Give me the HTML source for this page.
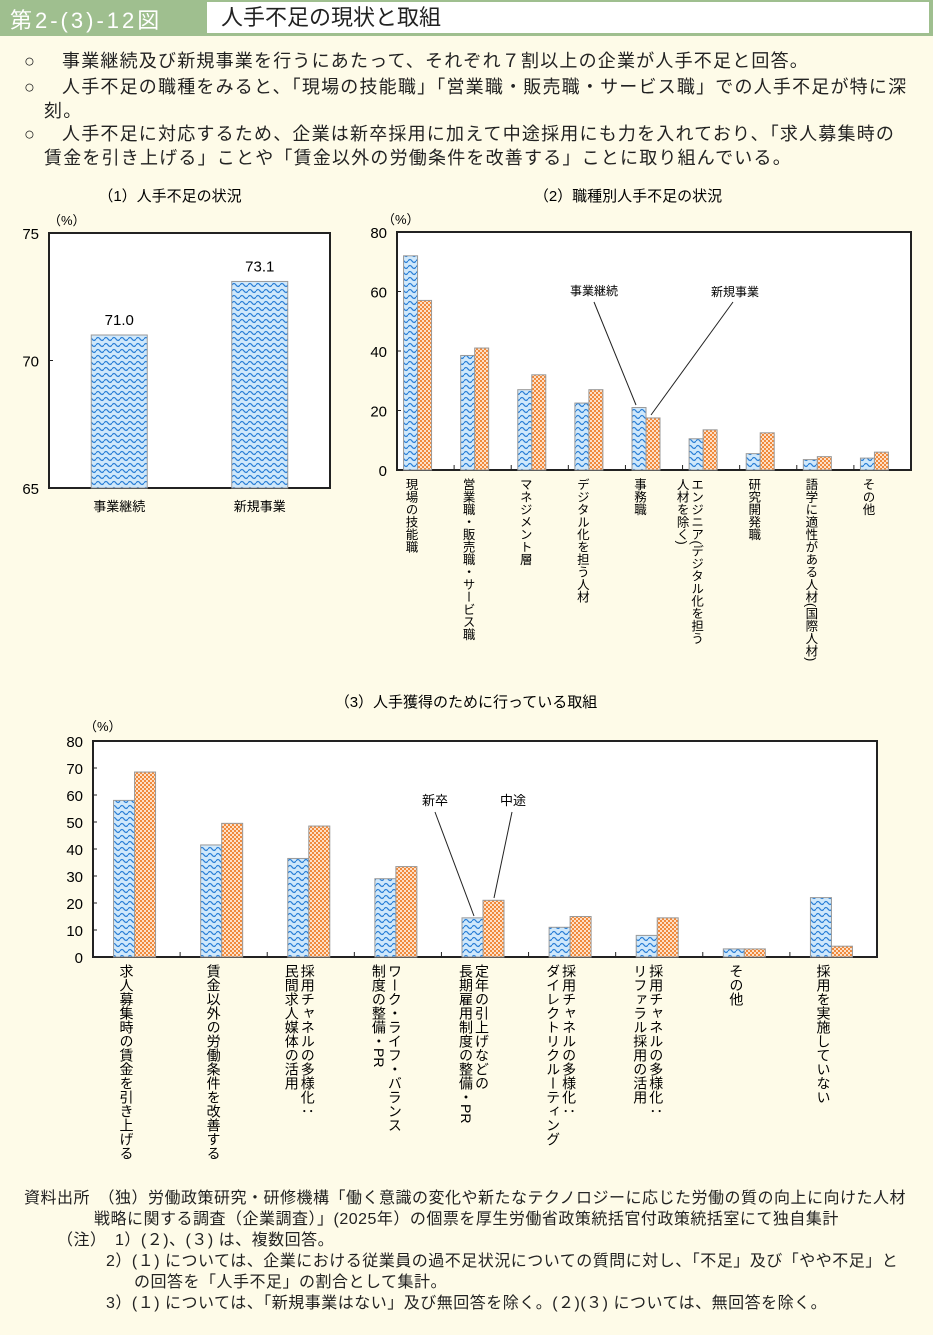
<!DOCTYPE html>
<html><head><meta charset="utf-8"><style>
body{margin:0;width:933px;height:1335px;background:#fefbe8;font-family:"Liberation Sans","Noto Sans CJK JP",sans-serif;position:relative;overflow:hidden;color:#222}
.hdr{position:absolute;left:0;top:0;width:933px;height:36px;background:#9fbf8f}
.hdr .num{position:absolute;left:10px;top:3px;font-size:22px;color:#fff;letter-spacing:3px}
.hdr .ttl{position:absolute;left:207px;top:2px;width:722px;height:31px;background:#fff;font-size:22px;padding-left:14px;line-height:31px;box-sizing:border-box}
.p{position:absolute;font-size:18px;line-height:24px;letter-spacing:1.2px}
.p .b{position:absolute;left:0;top:0}
.note{position:absolute;font-size:16px;line-height:21px;letter-spacing:0.5px}
svg text{font-family:"Liberation Sans","Noto Sans CJK JP",sans-serif}
</style></head><body>
<div class="hdr"><div class="num">第2-(3)-12図</div><div class="ttl">人手不足の現状と取組</div></div>
<div class="p" style="left:24px;top:49px;width:905px;padding-left:38px;box-sizing:border-box"><span class="b">○</span>事業継続及び新規事業を行うにあたって、それぞれ７割以上の企業が人手不足と回答。</div>
<div class="p" style="left:24px;top:75px;width:905px;padding-left:38px;box-sizing:border-box"><span class="b">○</span>人手不足の職種をみると、「現場の技能職」「営業職・販売職・サービス職」での人手不足が特に深<br><span style="margin-left:-18px">刻。</span></div>
<div class="p" style="left:24px;top:122px;width:905px;padding-left:38px;box-sizing:border-box"><span class="b">○</span>人手不足に対応するため、企業は新卒採用に加えて中途採用にも力を入れており、「求人募集時の<br><span style="margin-left:-18px">賃金を引き上げる」ことや「賃金以外の労働条件を改善する」ことに取り組んでいる。</span></div>
<svg id="c" width="933" height="1335" style="position:absolute;left:0;top:0">
<defs>
<pattern id="wave" width="8" height="6" patternUnits="userSpaceOnUse"><rect width="8" height="6" fill="#cfe8fb"/><path d="M0 3 Q2 0 4 3 T8 3" stroke="#2a7fd6" stroke-width="1.2" fill="none"/></pattern>
<pattern id="chk" width="4" height="4" patternUnits="userSpaceOnUse"><rect width="4" height="4" fill="#fde0c8"/><rect width="2" height="2" fill="#f08a3c"/><rect x="2" y="2" width="2" height="2" fill="#f08a3c"/></pattern>
</defs>
<g id="g1"></g><g id="g2"></g><g id="g3"></g>
</svg>
<div class="note" style="left:24px;top:1188px;width:909px">資料出所　（独）労働政策研究・研修機構「働く意識の変化や新たなテクノロジーに応じた労働の質の向上に向けた人材<br><span style="margin-left:70px">戦略に関する調査（企業調査）」(2025年）の個票を厚生労働省政策統括官付政策統括室にて独自集計</span><br>
<span style="margin-left:33px">（注）　1）(２)、(３) は、複数回答。</span><br>
<span style="margin-left:82px">2）(１) については、企業における従業員の過不足状況についての質問に対し、「不足」及び「やや不足」と</span><br>
<span style="margin-left:110px">の回答を「人手不足」の割合として集計。</span><br>
<span style="margin-left:82px">3）(１) については、「新規事業はない」及び無回答を除く。(２)(３) については、無回答を除く。</span></div>
<script>
const c1Cats=["事業継続","新規事業"];
const c1Vals=[71.0,73.1];
const c1Ticks=[65,70,75];
const c2Cats=["現場の技能職","営業職・販売職・サービス職","マネジメント層","デジタル化を担う人材","事務職","エンジニア(デジタル化を担う|人材を除く)","研究開発職","語学に適性がある人材(国際人材)","その他"];
const c2Cont=[72,38.5,27,22.5,21,10.5,5.5,3.5,4];
const c2New=[57,41,32,27,17.5,13.5,12.5,4.5,6];
const c2Ticks=[0,20,40,60,80];
const c3Cats=["求人募集時の賃金を引き上げる","賃金以外の労働条件を改善する","採用チャネルの多様化：|民間求人媒体の活用","ワーク・ライフ・バランス|制度の整備・PR","定年の引上げなどの|長期雇用制度の整備・PR","採用チャネルの多様化：|ダイレクトリクルーティング","採用チャネルの多様化：|リファラル採用の活用","その他","採用を実施していない"];
const c3New=[58,41.5,36.5,29,14.5,11,8,3,22];
const c3Mid=[68.5,49.5,48.5,33.5,21,15,14.5,3,4];
const c3Ticks=[0,10,20,30,40,50,60,70,80];
const NS="http://www.w3.org/2000/svg";
function mk(p,t,a,txt){const e=document.createElementNS(NS,t);for(const k in a)e.setAttribute(k,a[k]);if(txt!=null)e.textContent=txt;p.appendChild(e);return e;}
function axis(g,x0,x1,y0,y1,min,max,ticks,fs){
 const ys=v=>y1-(v-min)/(max-min)*(y1-y0);
 const f=mk(g,'rect',{x:x0,y:y0,width:x1-x0,height:y1-y0,fill:'#fff',stroke:'#222','stroke-width':2});
 
 ticks.forEach(t=>{const y=ys(t);mk(g,'line',{x1:x0,x2:x0+4,y1:y,y2:y,stroke:'#222'});
  const l=mk(g,'text',{x:x0-10,y:y+6,'text-anchor':'end','font-size':fs},t);
  });
 return ys;}
function vlabel(g,x,y,s,fs){s.split('|').forEach((ln,i)=>{
 const t=mk(g,'text',{x:x-i*(fs+2),y:y,'font-size':fs,style:'writing-mode:vertical-rl;glyph-orientation-vertical:0'},ln);
 });}
function bar(g,x,w,y,y0,fill,name){const b=mk(g,'rect',{x:x,y:y,width:w,height:y0-y,fill:fill,stroke:'#999','stroke-width':1});
 }
const g1=document.getElementById('g1');
mk(g1,'text',{x:170,y:201,'font-size':15,'text-anchor':'middle'},'（1）人手不足の状況');
mk(g1,'text',{x:48,y:225,'font-size':13},'（%）');
const y1=axis(g1,49,330,233,488,65,75,c1Ticks,15);
c1Vals.forEach((v,i)=>{const cx=49+(i+0.5)*(281/2);bar(g1,cx-28,56,y1(v),488,'url(#wave)','bar-'+c1Cats[i]);
 mk(g1,'text',{x:cx,y:y1(v)-10,'font-size':15,'text-anchor':'middle'},v.toFixed(1));
 mk(g1,'text',{x:cx,y:511,'font-size':13,'text-anchor':'middle'},c1Cats[i]);});
const g2=document.getElementById('g2');
mk(g2,'text',{x:628,y:201,'font-size':15,'text-anchor':'middle'},'（2）職種別人手不足の状況');
mk(g2,'text',{x:382,y:224,'font-size':13},'（%）');
const y2=axis(g2,397,911,232,470,0,80,c2Ticks,15);
const w2=(911-397)/9;
c2Cats.forEach((cat,i)=>{const cx=397+(i+0.5)*w2-8;
 bar(g2,cx-14,14,y2(c2Cont[i]),470,'url(#wave)','bar-continue');
 bar(g2,cx,14,y2(c2New[i]),470,'url(#chk)','bar-new');
 if(i>0)mk(g2,'line',{x1:397+i*w2,x2:397+i*w2,y1:470,y2:465,stroke:'#222'});
 vlabel(g2,cx-7,478,cat,12.5);});
mk(g2,'text',{x:594,y:295,'font-size':12,'text-anchor':'middle'},'事業継続');
mk(g2,'text',{x:735,y:296,'font-size':12,'text-anchor':'middle'},'新規事業');
mk(g2,'line',{x1:594,y1:302,x2:636,y2:405,stroke:'#222'});
mk(g2,'line',{x1:733,y1:302,x2:651,y2:415,stroke:'#222'});
const g3=document.getElementById('g3');
mk(g3,'text',{x:466,y:707,'font-size':15,'text-anchor':'middle'},'（3）人手獲得のために行っている取組');
mk(g3,'text',{x:84,y:731,'font-size':13},'（%）');
const y3=axis(g3,93,877,741,957,0,80,c3Ticks,15);
const w3=(877-93)/9;
c3Cats.forEach((cat,i)=>{const cx=93+(i+0.5)*w3-2;
 bar(g3,cx-21,21,y3(c3New[i]),957,'url(#wave)','bar-new-grad');
 bar(g3,cx,21,y3(c3Mid[i]),957,'url(#chk)','bar-mid-career');
 if(i>0)mk(g3,'line',{x1:93+i*w3,x2:93+i*w3,y1:957,y2:952,stroke:'#222'});
 const n=cat.split('|').length;vlabel(g3,cx-8+(n-1)*7,964,cat,14);});
mk(g3,'text',{x:435,y:805,'font-size':13,'text-anchor':'middle'},'新卒');
mk(g3,'text',{x:513,y:805,'font-size':13,'text-anchor':'middle'},'中途');
mk(g3,'line',{x1:435,y1:812,x2:474,y2:916,stroke:'#222'});
mk(g3,'line',{x1:512,y1:812,x2:494,y2:898,stroke:'#222'});
</script>
</body></html>
